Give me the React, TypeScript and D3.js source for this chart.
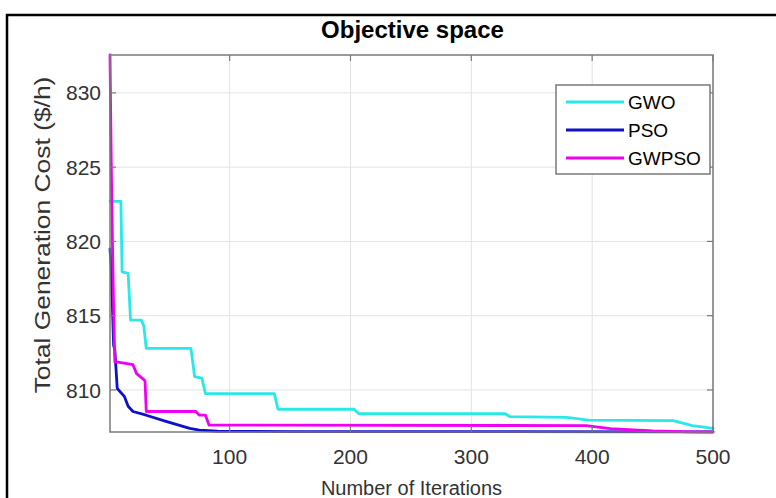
import React from "react";
import * as d3 from "d3";

const gwoIter = [1, 10, 11, 16, 18, 27, 29, 31, 68, 71, 77, 80, 137, 140, 203, 207, 328, 332, 379, 397, 467, 483, 500];
const gwoVal = [822.7, 822.7, 817.95, 817.85, 814.7, 814.7, 814.3, 812.8, 812.8, 810.9, 810.8, 809.75, 809.75, 808.7, 808.7, 808.4, 808.4, 808.2, 808.15, 807.97, 807.93, 807.6, 807.42];

const psoIter = [1, 2, 4, 5, 7, 13, 16, 20, 31, 48, 67, 75, 90, 150, 500];
const psoVal = [819.5, 818.3, 813.0, 812.7, 810.1, 809.55, 808.9, 808.55, 808.3, 807.87, 807.42, 807.3, 807.22, 807.2, 807.18];

const gwpsoIter = [1, 2, 3, 4, 5, 20, 23, 29, 30, 31, 72, 75, 80, 83, 395, 415, 450, 480, 500];
const gwpsoVal = [832.55, 825.5, 820, 815.5, 811.9, 811.7, 811.1, 810.7, 810.6, 808.55, 808.55, 808.3, 808.3, 807.63, 807.6, 807.4, 807.25, 807.18, 807.17];

const seriesNames = ["GWO", "PSO", "GWPSO"];
const seriesColors = ["#2ae8e8", "#1010c8", "#f000f0"];
const xTicks = [100, 200, 300, 400, 500];
const yTicks = [810, 815, 820, 825, 830];

const W = 776;
const H = 498;
const L = 110, R = 713, T = 55, B = 432;
const FONT = "Liberation Sans, Arial, Helvetica, sans-serif";

export default function App() {
  const series = [
    { name: seriesNames[0], color: seriesColors[0], pts: gwoIter.map((x, i) => [x, gwoVal[i]] as [number, number]) },
    { name: seriesNames[1], color: seriesColors[1], pts: psoIter.map((x, i) => [x, psoVal[i]] as [number, number]) },
    { name: seriesNames[2], color: seriesColors[2], pts: gwpsoIter.map((x, i) => [x, gwpsoVal[i]] as [number, number]) },
  ];
  const allVals = [...gwoVal, ...psoVal, ...gwpsoVal];
  const [ymin, ymax] = d3.extent(allVals) as [number, number];
  const x = d3.scaleLinear().domain([1, 500]).range([L, R]);
  const y = d3.scaleLinear().domain([ymin, ymax]).range([B, T]);
  const line = d3.line<[number, number]>().x((d) => x(d[0])).y((d) => y(d[1]));
  const axisColor = "#7a7a7a";
  const tickLen = 6;

  return (
    <svg width={W} height={H} style={{ position: "absolute", left: 0, top: 0, background: "#fff" }} fontFamily={FONT}>
      <rect x={0} y={0} width={W} height={H} fill="#fff" />
      {/* outer frame */}
      <path d={`M7,${H + 5} L7,15 L${W + 5},15`} fill="none" stroke="#000" strokeWidth={2.5} />
      {/* title */}
      <text x={(L + R) / 2 + 1} y={38} textAnchor="middle" fontSize={24} fontWeight="bold" fill="#000">Objective space</text>
      {/* grid */}
      {xTicks.map((t) => (
        <line key={"gx" + t} x1={x(t)} x2={x(t)} y1={T} y2={B} stroke="#e3e3e3" strokeWidth={1} />
      ))}
      {yTicks.map((t) => (
        <line key={"gy" + t} x1={L} x2={R} y1={y(t)} y2={y(t)} stroke="#e3e3e3" strokeWidth={1} />
      ))}
      {/* series */}
      {series.map((s) => (
        <path key={s.name} d={line(s.pts) || ""} fill="none" stroke={s.color} strokeWidth={2.8} strokeLinejoin="round" strokeLinecap="round" />
      ))}
      {/* axes box */}
      <rect x={L} y={T} width={R - L} height={B - T} fill="none" stroke={axisColor} strokeWidth={1.5} />
      {xTicks.map((t) => (
        <g key={"tx" + t}>
          <line x1={x(t)} x2={x(t)} y1={B} y2={B - tickLen} stroke={axisColor} strokeWidth={1.2} />
          <line x1={x(t)} x2={x(t)} y1={T} y2={T + tickLen} stroke={axisColor} strokeWidth={1.2} />
          <text x={x(t)} y={464} textAnchor="middle" fontSize={21} fill="#333">{t}</text>
        </g>
      ))}
      {yTicks.map((t) => (
        <g key={"ty" + t}>
          <line x1={L} x2={L + tickLen} y1={y(t)} y2={y(t)} stroke={axisColor} strokeWidth={1.2} />
          <line x1={R} x2={R - tickLen} y1={y(t)} y2={y(t)} stroke={axisColor} strokeWidth={1.2} />
          <text x={101} y={y(t)} dy="0.36em" textAnchor="end" fontSize={21} fill="#333">{t}</text>
        </g>
      ))}
      {/* axis labels */}
      <text x={(L + R) / 2} y={495} textAnchor="middle" fontSize={20} fill="#333">Number of Iterations</text>
      <text transform={`translate(50, 235) rotate(-90) scale(1.2, 1)`} textAnchor="middle" fontSize={22} fill="#333">Total Generation Cost ($/h)</text>
      {/* legend */}
      <rect x={556} y={85} width={154} height={89} fill="#fff" stroke={axisColor} strokeWidth={1.5} />
      {series.map((s, i) => (
        <g key={"lg" + s.name}>
          <line x1={566} x2={624} y1={102 + i * 28} y2={102 + i * 28} stroke={s.color} strokeWidth={3} />
          <text x={628} y={102 + i * 28} dy="0.36em" fontSize={19} fill="#000">{s.name}</text>
        </g>
      ))}
    </svg>
  );
}
